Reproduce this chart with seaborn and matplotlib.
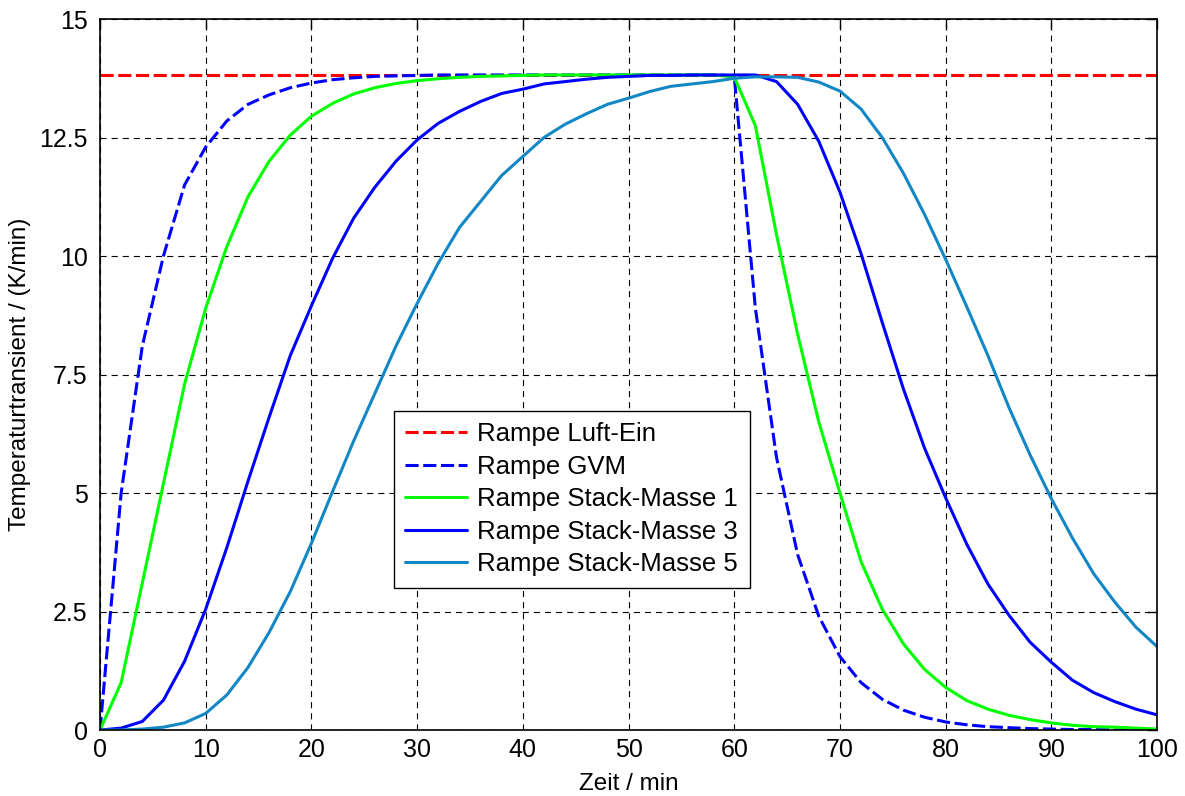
import matplotlib
matplotlib.use("Agg")
import matplotlib.pyplot as plt
import pandas as pd
import seaborn as sns

# Zeitachse (min), Abtastung alle 2 min
zeit = list(range(0, 101, 2))

luft_zeit = [0, 100]
luft_ein = [13.82, 13.82]

gvm = [0, 5.0, 8.1, 10.0, 11.5, 12.3, 12.85, 13.2, 13.4, 13.55, 13.65, 13.72,
       13.76, 13.79, 13.8, 13.81,
       13.82, 13.82, 13.82, 13.82, 13.82, 13.82, 13.82, 13.82, 13.82, 13.82,
       13.82, 13.82, 13.82, 13.82, 13.8,
       8.9, 5.75, 3.7, 2.4, 1.55, 1.0, 0.65, 0.42, 0.27, 0.17,
       0.11, 0.07, 0.05, 0.03, 0.02, 0.01, 0.01, 0.0, 0.0, 0.0]

stack_1 = [0, 1.0, 3.1, 5.2, 7.3, 8.9, 10.2, 11.25, 12.0, 12.55, 12.95, 13.22,
           13.42, 13.55, 13.64, 13.7, 13.74, 13.77, 13.79, 13.8, 13.81,
           13.82, 13.82, 13.82, 13.82, 13.82, 13.82, 13.82, 13.82, 13.82, 13.78,
           12.75, 10.45, 8.35, 6.5, 5.0, 3.55, 2.55, 1.82, 1.28, 0.9,
           0.62, 0.44, 0.31, 0.22, 0.15, 0.1, 0.07, 0.06, 0.04, 0.02]

stack_3 = [0, 0.04, 0.18, 0.63, 1.45, 2.55, 3.85, 5.25, 6.6, 7.9, 8.95, 9.95,
           10.8, 11.45, 12.0, 12.45, 12.8, 13.05, 13.26, 13.43, 13.52, 13.63,
           13.68, 13.73, 13.77, 13.79, 13.81, 13.81, 13.82, 13.82, 13.82,
           13.82, 13.68, 13.2, 12.42, 11.35, 10.05, 8.6, 7.2, 5.95, 4.9,
           3.92, 3.08, 2.42, 1.85, 1.43, 1.05, 0.79, 0.6, 0.44, 0.32]

stack_5 = [0, 0.0, 0.02, 0.06, 0.15, 0.35, 0.74, 1.32, 2.06, 2.92, 3.94, 5.03,
           6.1, 7.1, 8.1, 9.0, 9.85, 10.6, 11.15, 11.7, 12.1, 12.5, 12.78,
           13.0, 13.2, 13.33, 13.47, 13.58, 13.63, 13.68, 13.75,
           13.78, 13.78, 13.77, 13.67, 13.48, 13.1, 12.5, 11.75, 10.88, 9.93,
           8.93, 7.9, 6.8, 5.8, 4.88, 4.05, 3.3, 2.7, 2.17, 1.76]

x_ticks = list(range(0, 101, 10))
y_ticks = [0, 2.5, 5, 7.5, 10, 12.5, 15]
y_labels = ["0", "2.5", "5", "7.5", "10", "12.5", "15"]

sns.set_style("white")
plt.rcParams['font.family'] = ['Liberation Sans', 'DejaVu Sans']
plt.rcParams['xtick.direction'] = 'in'
plt.rcParams['ytick.direction'] = 'in'
plt.rcParams['text.color'] = 'black'
plt.rcParams['axes.labelcolor'] = 'black'

fig = plt.figure(figsize=(11.85, 7.96), dpi=100)
ax = fig.add_axes([0.0844, 0.0829, 0.892, 0.8932])

df_luft = pd.DataFrame({"t": luft_zeit, "v": luft_ein})
df = pd.DataFrame({"t": zeit, "gvm": gvm, "s1": stack_1, "s3": stack_3, "s5": stack_5})

lw = 2.2
sns.lineplot(x="t", y="v", data=df_luft, ax=ax, color="#ff0000", lw=lw,
             label="Rampe Luft-Ein").lines[-1].set_dashes((4.3, 1.5))
sns.lineplot(x="t", y="gvm", data=df, ax=ax, color="#0000ff", lw=lw,
             label="Rampe GVM").lines[-1].set_dashes((4.3, 1.5))
sns.lineplot(x="t", y="s1", data=df, ax=ax, color="#00ff00", lw=lw,
             label="Rampe Stack-Masse 1")
sns.lineplot(x="t", y="s3", data=df, ax=ax, color="#0000ff", lw=lw,
             label="Rampe Stack-Masse 3")
sns.lineplot(x="t", y="s5", data=df, ax=ax, color="#1187c6", lw=lw,
             label="Rampe Stack-Masse 5")

ax.set_xlim(0, 100)
ax.set_ylim(0, 15)
ax.set_xticks(x_ticks)
ax.set_yticks(y_ticks)
ax.set_yticklabels(y_labels)
ax.tick_params(axis="both", labelsize=18, length=7, width=1, top=True, right=True,
               colors="black", labelcolor="black", pad=6)
ax.tick_params(axis="y", pad=9)
ax.grid(True, color="black", lw=0.8, linestyle=(0, (5.5, 4.5)))
for sp in ax.spines.values():
    sp.set_visible(True)
    sp.set_color("black")
    sp.set_linewidth(1.2)

ax.set_xlabel("Zeit / min", fontsize=17.5, labelpad=8)
ax.set_ylabel("Temperaturtransient / (K/min)", fontsize=17.5, labelpad=6)

leg = ax.legend(loc="lower left", bbox_to_anchor=(0.278, 0.2), fontsize=18.5,
                fancybox=False, framealpha=1, edgecolor="black",
                handlelength=2.4, handletextpad=0.4, borderpad=0.45,
                labelspacing=0.33, borderaxespad=0)
leg.get_frame().set_linewidth(1.0)

plt.savefig("out.png", dpi=100)
